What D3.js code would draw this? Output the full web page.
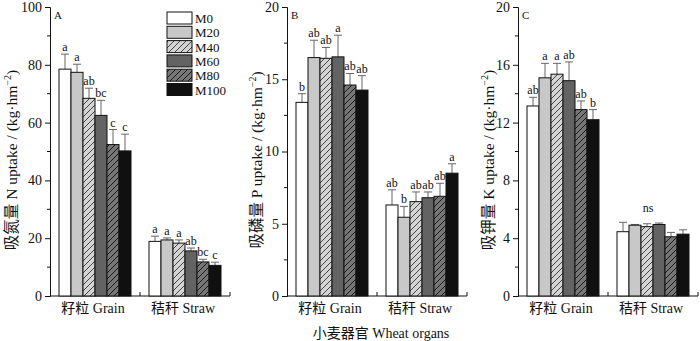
<!DOCTYPE html>
<html>
<head>
<meta charset="utf-8">
<script src="https://cdn.jsdelivr.net/npm/d3@7"></script>
<style>
  body { margin: 0; background: #fff; }
  text { font-family: "Liberation Serif", "Noto Sans CJK SC", serif; fill: #111; }
</style>
</head>
<body>
<div id="chart"></div>
<script>
// data
var organs = ['籽粒 Grain', '秸秆 Straw']
var treatments = ['M0', 'M20', 'M40', 'M60', 'M80', 'M100']

var nMean = [[78.5, 77.4, 68.4, 62.5, 52.4, 50.2], [18.9, 19.4, 18.3, 15.6, 11.8, 10.6]]
var nErr = [[5.2, 2.8, 3.5, 5.2, 5.2, 5.8], [1.8, 0.7, 1.1, 1.0, 0.9, 1.1]]
var nSig = [['a', 'a', 'ab', 'bc', 'c', 'c'], ['a', 'a', 'a', 'ab', 'bc', 'c']]

var pMean = [[13.4, 16.5, 16.45, 16.55, 14.6, 14.25], [6.3, 5.45, 6.53, 6.8, 6.9, 8.5]]
var pErr = [[0.6, 1.2, 0.75, 1.5, 0.8, 1.0], [1.05, 0.75, 0.67, 0.4, 0.9, 0.65]]
var pSig = [['b', 'ab', 'ab', 'a', 'ab', 'ab'], ['ab', 'b', 'ab', 'ab', 'ab', 'a']]

var kMean = [[13.15, 15.1, 15.35, 14.9, 12.9, 12.2], [4.45, 4.9, 4.8, 4.95, 4.1, 4.28]]
var kErr = [[0.6, 1.0, 0.75, 1.3, 0.6, 0.7], [0.65, 0.05, 0.2, 0.1, 0.3, 0.3]]
var kSig = [['ab', 'a', 'a', 'ab', 'ab', 'b'], ['', '', '', '', '', '']]

var panels = [
  { tag: 'A', mean: nMean, err: nErr, sig: nSig, max: 100, major: 20, minor: 10, cn: '吸氮量', en: ' N uptake / (kg·hm', lx: -33 },
  { tag: 'B', mean: pMean, err: pErr, sig: pSig, max: 20, major: 5, minor: 2.5, cn: '吸磷量', en: ' P uptake / (kg·hm', lx: -25 },
  { tag: 'C', mean: kMean, err: kErr, sig: kSig, max: 20, major: 4, minor: 2, cn: '吸钾量', en: ' K uptake / (kg·hm', lx: -24 }
]

var fills = ['#ffffff', '#c8c8c8', 'url(#hatch1)', '#636363', 'url(#hatch2)', '#101010']

var W = 700, H = 341
var svg = d3.select('#chart').append('svg').attr('width', W).attr('height', H)

var defs = svg.append('defs')
function hatch(id, bg, line) {
  var p = defs.append('pattern').attr('id', id).attr('patternUnits', 'userSpaceOnUse')
    .attr('width', 6).attr('height', 6)
  p.append('rect').attr('width', 6).attr('height', 6).attr('fill', bg)
  p.append('path').attr('d', 'M-1,7 L7,-1 M-4,4 L4,-4 M2,10 L10,2')
    .attr('stroke', line).attr('stroke-width', 0.9)
}
hatch('hatch1', '#d4d4d4', '#333')
hatch('hatch2', '#767676', '#111')

var lefts = [50, 287, 518]
var pw = 180, plotTop = 7, plotBottom = 296

var y = d3.scaleLinear().range([plotBottom, plotTop])
var x0 = d3.scaleBand().domain(organs).range([0, pw])
var x1 = d3.scaleBand().domain(treatments).range([9, 81])

panels.forEach(function(p, pi) {
  var g = svg.append('g').attr('transform', 'translate(' + lefts[pi] + ',0)')
  var ys = y.copy().domain([0, p.max])

  // y axis
  var yAxis = d3.axisLeft(ys).tickValues(d3.range(0, p.max + 0.01, p.major)).tickSize(5).tickPadding(3)
  var ya = g.append('g').call(yAxis)
  ya.select('.domain').attr('stroke', '#111')
  ya.selectAll('.tick line').attr('stroke', '#111')
  ya.selectAll('.tick text').style('font-size', '14px').attr('fill', '#111')
  g.append('g').selectAll('line').data(d3.range(p.minor, p.max, p.major))
    .enter().append('line')
    .attr('x1', -3).attr('x2', 0)
    .attr('y1', d => ys(d)).attr('y2', d => ys(d))
    .attr('stroke', '#111')

  // x axis
  g.append('line').attr('x1', 0).attr('x2', pw).attr('y1', plotBottom).attr('y2', plotBottom).attr('stroke', '#111')
  g.selectAll('.xtick').data([x0.bandwidth(), pw]).enter().append('line')
    .attr('x1', d => d).attr('x2', d => d).attr('y1', plotBottom).attr('y2', plotBottom - 4).attr('stroke', '#111')
  g.selectAll('.xlab').data(organs).enter().append('text')
    .attr('x', d => x0(d) + x0.bandwidth() / 2 - 2).attr('y', 313)
    .attr('text-anchor', 'middle').style('font-size', '14px').text(d => d)

  g.append('text').attr('x', 4).attr('y', 19).style('font-size', '11px').text(p.tag)

  // bars
  organs.forEach(function(o, oi) {
    var og = g.append('g').attr('transform', 'translate(' + x0(o) + ',0)')
    treatments.forEach(function(t, ti) {
      var v = p.mean[oi][ti], e = p.err[oi][ti]
      var bx = x1(t), bw = x1.bandwidth(), cx = bx + bw / 2
      og.append('line').attr('x1', cx).attr('x2', cx).attr('y1', ys(v)).attr('y2', ys(v + e))
        .attr('stroke', '#666')
      og.append('line').attr('x1', cx - 4).attr('x2', cx + 4).attr('y1', ys(v + e)).attr('y2', ys(v + e))
        .attr('stroke', '#666')
      og.append('rect').attr('x', bx).attr('y', ys(v)).attr('width', bw).attr('height', ys(0) - ys(v))
        .attr('fill', fills[ti]).attr('stroke', '#111').attr('stroke-width', 1)
      if (p.sig[oi][ti]) {
        og.append('text').attr('x', cx).attr('y', ys(v + e) - 3).attr('text-anchor', 'middle')
          .style('font-size', '12px').text(p.sig[oi][ti])
      }
    })
  })
  if (p.tag === 'C') {
    g.append('text').attr('x', x0(organs[1]) + 40).attr('y', 212).attr('text-anchor', 'middle')
      .style('font-size', '12px').text('ns')
  }

  // y label
  var lab = g.append('text').attr('transform', 'translate(' + p.lx + ',' + 160 + ') rotate(-90)')
    .attr('text-anchor', 'middle').style('font-size', '15.5px')
  lab.append('tspan').text(p.cn)
  lab.append('tspan').text(p.en)
  lab.append('tspan').attr('dy', -6).style('font-size', '10px').text('−2')
  lab.append('tspan').attr('dy', 6).text(')')
})

// legend
var leg = svg.append('g').attr('transform', 'translate(167,12)')
treatments.forEach(function(t, i) {
  leg.append('rect').attr('x', 0).attr('y', i * 14.3).attr('width', 25).attr('height', 12)
    .attr('fill', fills[i]).attr('stroke', '#111')
  leg.append('text').attr('x', 28).attr('y', i * 14.3 + 11).style('font-size', '13px').text(t)
})

svg.append('text').attr('x', 381).attr('y', 338).attr('text-anchor', 'middle')
  .style('font-size', '14px').text('小麦器官 Wheat organs')
</script>
</body>
</html>
